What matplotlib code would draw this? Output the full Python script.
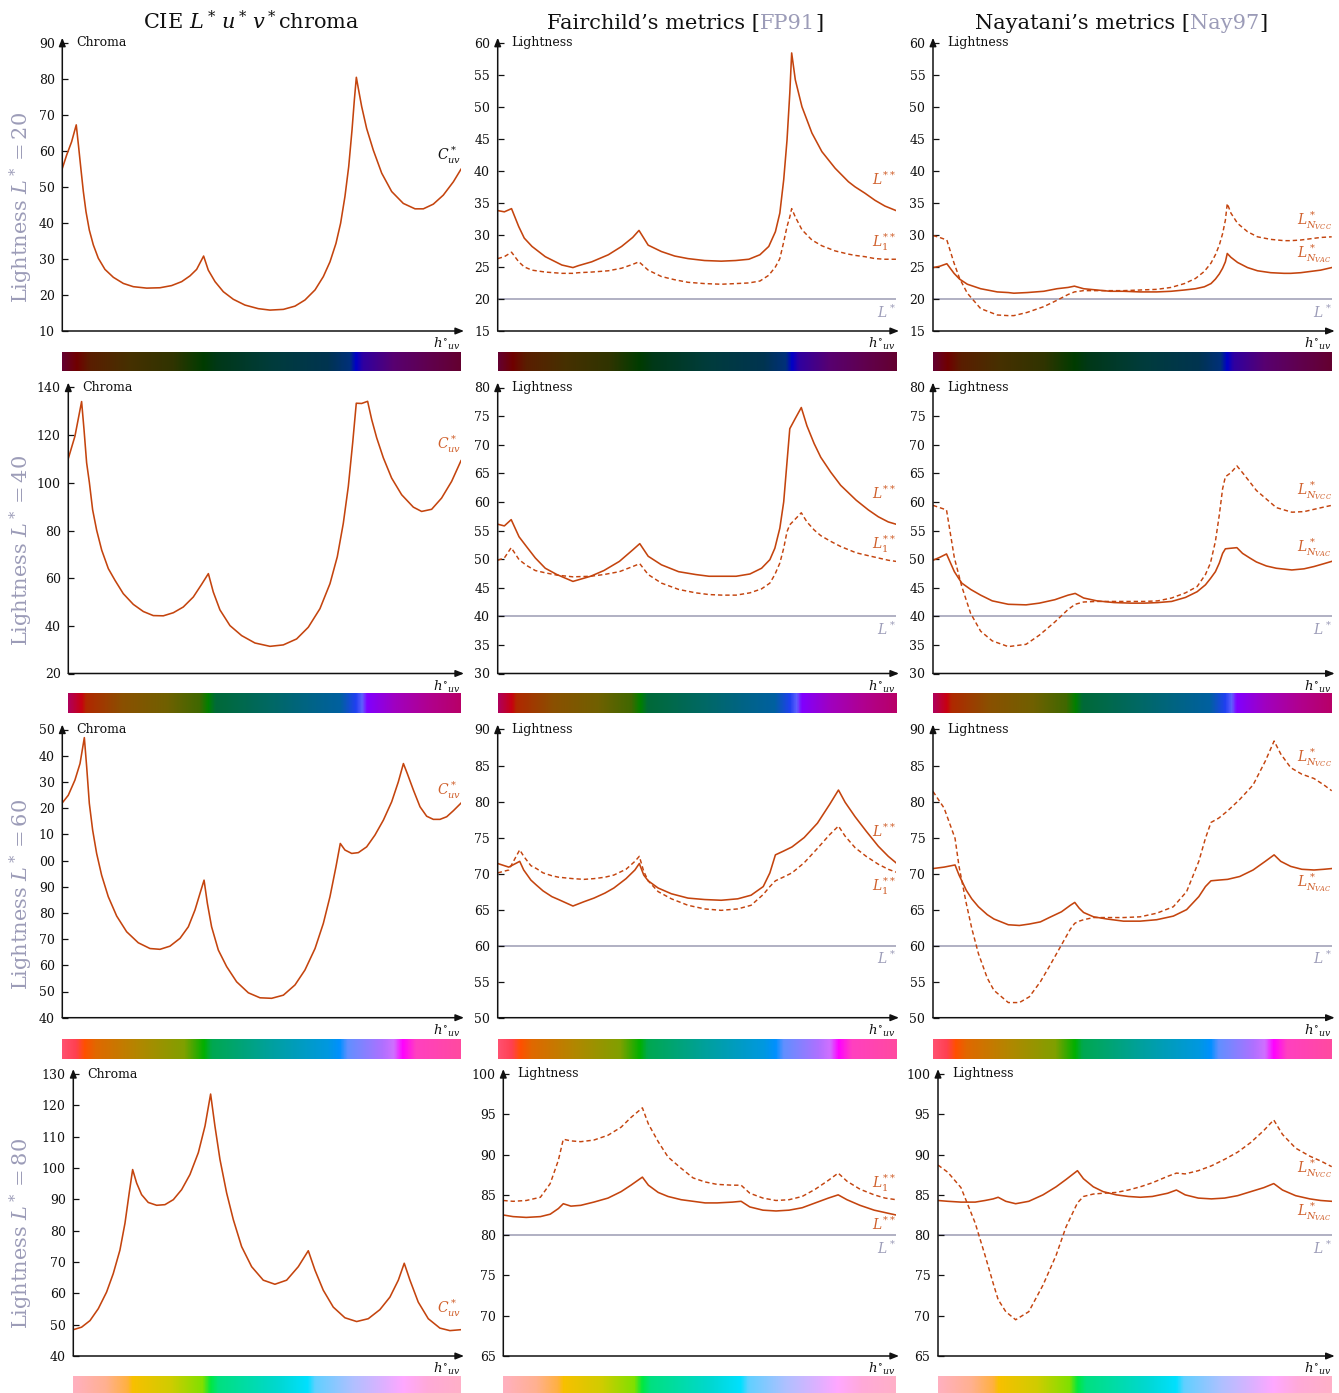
import matplotlib
matplotlib.use("Agg")
import matplotlib.pyplot as plt
import numpy as np
from matplotlib.colors import LinearSegmentedColormap

W, H = 1339, 1393

INK = "#111111"
RUST = "#c4440e"
RUST_TXT = "#d0602c"
LAV = "#9c9cb8"
REF = "#aaaabe"

plt.rcParams.update({
    "font.family": "DejaVu Serif",
    "mathtext.fontset": "dejavuserif",
    "font.size": 9,
    "text.color": INK,
})

# ---- chroma at the gamut boundary (own hue samples) ----------------------
C_HUE_20 = [0, 3.9, 8.4, 12.6, 14.7, 16.9, 19.0, 21.4, 24.4, 28.0, 32.5, 38.5, 46.1, 55.1, 64.1, 76.2,
            88.2, 98.7, 107.8, 115.3, 121.3, 127.6, 131.8, 137.9, 145.4, 154.4, 164.9, 177.0, 187.5,
            199.6, 210.1, 219.1, 228.2, 235.7, 241.7, 247.1, 251.3, 255.2, 258.6, 261.6, 263.7, 265.5,
            267.3, 270.3, 274.8, 280.8, 288.4, 297.4, 307.9, 318.5, 326.0, 335.0, 344.0, 353.1, 360]
CHROMA_20 = [55.1, 58.8, 62.5, 67.2, 61.2, 54.7, 48.7, 43.1, 38.0, 33.9, 30.2, 27.1, 24.9, 23.2, 22.3,
             21.9, 22.0, 22.6, 23.7, 25.3, 27.1, 30.8, 26.9, 23.7, 20.9, 18.8, 17.2, 16.2, 15.8, 16.0,
             16.9, 18.6, 21.4, 25.1, 29.2, 34.3, 39.9, 47.3, 55.6, 65.8, 74.1, 80.4, 77.3, 72.3, 66.2,
             60.2, 53.8, 48.7, 45.4, 43.9, 43.9, 45.2, 47.7, 51.4, 54.9]

C_HUE_40 = [0, 6.1, 12.2, 14.4, 16.8, 19.3, 22.3, 26.0, 30.6, 36.7, 42.8, 50.4, 59.6, 68.8, 77.9, 87.1,
            96.3, 105.4, 114.6, 122.2, 128.4, 132.9, 139.0, 148.2, 158.9, 171.1, 184.9, 197.1, 209.3,
            220.0, 230.7, 239.9, 246.6, 252.1, 256.7, 260.7, 264.0, 268.9, 274.4, 278.1, 282.7, 288.8,
            296.4, 305.6, 316.3, 323.9, 333.1, 342.2, 351.4, 360]
CHROMA_40 = [110.2, 119.6, 134.1, 122.4, 108.4, 100.2, 88.7, 80.1, 71.8, 64.0, 59.1, 53.5, 49.0, 46.0,
             44.3, 44.2, 45.5, 47.9, 52.1, 57.4, 61.9, 54.2, 46.7, 40.1, 35.9, 32.8, 31.4, 32.0, 34.5,
             39.4, 47.2, 57.7, 69.0, 83.0, 98.5, 116.8, 133.4, 133.3, 134.2, 126.6, 118.9, 110.5, 102.0,
             95.0, 89.8, 88.0, 88.9, 93.6, 100.6, 109.3]

C_HUE_60 = [0, 5.4, 11.4, 16.0, 19.9, 22.0, 24.4, 27.4, 31.0, 35.5, 41.5, 49.1, 58.1, 68.6, 79.2, 88.2,
            97.2, 106.3, 113.8, 119.8, 124.3, 128.0, 131.0, 134.8, 140.9, 148.4, 157.4, 168.0, 178.5,
            189.0, 199.6, 210.1, 219.1, 228.2, 235.7, 241.7, 247.1, 251.0, 255.2, 261.3, 267.3, 274.8,
            282.3, 289.9, 297.4, 303.4, 308.0, 311.5, 317.0, 323.0, 329.0, 335.0, 341.0, 347.1, 353.1,
            360]
CHROMA_60 = [122.0, 124.9, 130.7, 137.0, 146.9, 135.8, 121.8, 111.6, 102.7, 94.4, 86.2, 78.8, 72.8,
             68.6, 66.4, 66.1, 67.3, 70.3, 74.7, 81.1, 87.4, 92.5, 83.6, 74.7, 65.8, 59.5, 53.7, 49.5,
             47.6, 47.4, 48.6, 52.5, 58.2, 66.4, 76.0, 86.2, 97.6, 106.5, 104.0, 102.7, 103.0, 105.2,
             109.7, 115.4, 122.4, 130.0, 137.0, 133.2, 126.9, 120.5, 116.9, 115.7, 115.7, 116.7, 119.0,
             121.9]

C_HUE_80 = [0, 7.7, 15.5, 23.2, 30.9, 37.1, 43.3, 48.0, 51.9, 55.1, 58.8, 63.4, 69.6, 77.4, 85.1, 92.9,
            100.6, 108.3, 116.1, 122.3, 127.5, 131.5, 136.2, 142.4, 148.6, 156.3, 165.6, 176.4, 187.2,
            198.1, 208.9, 218.2, 224.4, 232.1, 241.4, 252.2, 263.1, 273.9, 284.7, 294.0, 301.8, 307.3,
            312.6, 320.3, 329.6, 340.4, 349.7, 360]
CHROMA_80 = [48.4, 49.2, 51.3, 55.1, 60.4, 66.3, 73.8, 82.4, 92.0, 99.5, 95.2, 91.5, 89.0, 88.1, 88.3,
             89.9, 93.1, 97.9, 104.9, 113.4, 123.6, 113.4, 102.7, 92.0, 83.5, 74.9, 68.5, 64.2, 62.9,
             64.2, 68.5, 73.6, 67.4, 61.0, 55.6, 52.2, 51.0, 51.9, 54.8, 58.8, 64.2, 69.6, 64.2, 57.2,
             51.9, 48.9, 48.1, 48.4]

# ---- lightness metrics, one hue grid per row -----------------------------
HUE_20 = [0, 6, 12.5, 19, 24, 31, 43, 58, 68, 73, 85, 100, 112, 122, 127.7, 136, 148, 160, 172, 187,
          202, 215, 227, 237, 245, 251, 255, 258.5, 261.5, 264, 265.7, 269, 275, 284, 293, 305, 317, 323,
          332, 341, 350, 360]
FAIR_L2_20 = [33.8, 33.6, 34.1, 31.3, 29.5, 28.2, 26.6, 25.3, 24.9, 25.2, 25.8, 26.9, 28.2, 29.6, 30.7,
              28.4, 27.4, 26.7, 26.3, 26.0, 25.9, 26.0, 26.2, 26.9, 28.2, 30.5, 33.4, 38.6, 44.8, 52.1,
              58.4, 54.2, 50.0, 45.9, 43.0, 40.4, 38.3, 37.5, 36.5, 35.4, 34.5, 33.8]
FAIR_L1_20 = [26.3, 26.6, 27.3, 25.8, 25.0, 24.5, 24.2, 24.0, 24.0, 24.1, 24.2, 24.4, 24.8, 25.4, 25.8,
              24.5, 23.5, 23.0, 22.6, 22.4, 22.3, 22.4, 22.5, 22.8, 23.7, 25.0, 26.3, 28.9, 31.3, 32.8,
              34.1, 32.8, 30.8, 29.2, 28.3, 27.5, 27.0, 26.8, 26.6, 26.3, 26.2, 26.2]
VAC_20 = [24.9, 25.1, 25.5, 24.0, 23.1, 22.3, 21.6, 21.1, 21.0, 20.9, 21.0, 21.2, 21.6, 21.8, 22.0,
          21.6, 21.4, 21.2, 21.2, 21.1, 21.1, 21.2, 21.4, 21.6, 21.9, 22.4, 23.1, 23.9, 24.8, 25.8,
          27.1, 26.5, 25.7, 24.9, 24.4, 24.1, 24.0, 24.0, 24.1, 24.3, 24.5, 24.9]
VCC_20 = [29.9, 29.6, 29.2, 25.6, 23.2, 20.9, 18.5, 17.5, 17.4, 17.4, 17.9, 18.8, 19.8, 20.7, 21.1,
          21.3, 21.3, 21.3, 21.3, 21.4, 21.5, 21.8, 22.4, 23.2, 24.3, 25.6, 26.9, 28.4, 30.2, 32.3,
          34.9, 33.4, 31.8, 30.5, 29.7, 29.3, 29.1, 29.1, 29.2, 29.4, 29.6, 29.7]

HUE_40 = [0, 6, 12.2, 19.3, 26, 34, 43, 53.5, 68, 84, 96, 110, 122, 128.4, 136, 148, 163.5, 179, 191,
          203, 215.5, 228, 238.5, 246, 250.5, 255, 258.5, 261.5, 264, 269, 274.4, 279.5, 286, 292, 301,
          310, 324, 335, 344, 353, 360]
FAIR_L2_40 = [56.1, 55.8, 56.9, 53.9, 52.2, 50.2, 48.4, 47.3, 46.1, 47.0, 48.0, 49.6, 51.6, 52.7, 50.5,
              49.0, 47.8, 47.3, 47.0, 47.0, 47.0, 47.4, 48.4, 49.9, 51.9, 55.4, 60.0, 67.0, 72.8, 74.6,
              76.5, 73.3, 70.2, 67.8, 65.2, 62.9, 60.3, 58.6, 57.4, 56.5, 56.1]
FAIR_L1_40 = [49.8, 50.2, 52.0, 49.9, 48.9, 48.0, 47.6, 47.2, 46.9, 47.0, 47.3, 47.8, 48.7, 49.2, 47.3,
              45.8, 44.7, 44.1, 43.8, 43.7, 43.7, 44.1, 44.8, 45.8, 47.3, 49.3, 51.9, 54.8, 56.0, 57.0,
              58.1, 56.5, 55.1, 54.1, 53.1, 52.2, 51.1, 50.6, 50.2, 49.8, 49.6]
VAC_40 = [49.8, 50.3, 50.9, 47.8, 45.8, 44.7, 43.7, 42.7, 42.1, 42.0, 42.3, 42.9, 43.7, 44.0, 43.2,
          42.7, 42.4, 42.3, 42.3, 42.4, 42.6, 43.3, 44.3, 45.5, 46.6, 47.8, 49.3, 51.0, 51.8, 51.9,
          52.0, 51.0, 50.2, 49.5, 48.8, 48.4, 48.1, 48.3, 48.7, 49.2, 49.6]
VCC_40 = [59.4, 59.0, 58.6, 50.2, 45.2, 40.5, 37.4, 35.7, 34.7, 35.1, 36.7, 39.0, 41.2, 42.1, 42.5,
          42.6, 42.6, 42.6, 42.6, 42.7, 43.2, 44.1, 45.2, 47.3, 49.3, 53.1, 57.7, 62.3, 64.4, 65.1,
          66.3, 65.1, 63.5, 62.0, 60.5, 59.0, 58.2, 58.3, 58.7, 59.1, 59.4]

HUE_60 = [0, 10, 19.9, 23.5, 30, 35, 41, 49, 55, 68, 78, 87, 97, 105, 116, 124, 128, 132, 136, 145,
          157, 172, 187, 202, 217, 229, 240, 246, 251, 258, 266, 277, 289, 300, 308, 314, 323, 333, 344,
          353, 360]
FAIR_L2_60 = [71.4, 70.9, 71.7, 70.5, 69.1, 68.4, 67.6, 66.8, 66.4, 65.5, 66.1, 66.6, 67.3, 68.0, 69.3,
              70.5, 71.4, 69.8, 69.0, 68.0, 67.2, 66.6, 66.4, 66.3, 66.5, 67.0, 68.2, 70.1, 72.6, 73.1,
              73.7, 75.0, 77.0, 79.6, 81.6, 79.9, 77.9, 75.9, 73.8, 72.4, 71.5]
FAIR_L1_60 = [70.1, 70.5, 73.3, 72.4, 71.1, 70.7, 70.1, 69.7, 69.5, 69.3, 69.2, 69.3, 69.5, 69.8, 70.6,
              71.7, 72.4, 70.3, 69.0, 67.5, 66.5, 65.6, 65.1, 64.9, 65.1, 65.6, 67.1, 68.2, 69.0, 69.5,
              70.1, 71.5, 73.5, 75.4, 76.6, 75.2, 73.6, 72.4, 71.3, 70.6, 70.2]
VAC_60 = [70.7, 70.9, 71.2, 69.8, 67.7, 66.5, 65.4, 64.3, 63.7, 62.9, 62.8, 63.0, 63.3, 63.9, 64.7,
          65.6, 66.0, 65.2, 64.6, 64.0, 63.7, 63.4, 63.4, 63.6, 64.1, 65.0, 66.8, 68.2, 69.0, 69.1,
          69.2, 69.6, 70.5, 71.7, 72.6, 71.7, 71.0, 70.6, 70.5, 70.6, 70.7]
VCC_60 = [81.4, 79.1, 74.9, 71.0, 65.9, 62.4, 58.9, 55.5, 53.8, 52.1, 52.1, 52.9, 55.0, 57.1, 60.1,
          62.3, 63.1, 63.4, 63.6, 63.9, 63.9, 63.9, 64.0, 64.5, 65.4, 67.5, 71.7, 74.9, 77.1, 77.7,
          78.7, 80.3, 82.3, 85.6, 88.4, 86.6, 84.7, 83.8, 83.2, 82.3, 81.5]

HUE_80 = [0, 9, 21, 34, 43, 50.5, 55, 62, 71, 83, 96, 108, 117, 127.5, 133, 142, 151, 163, 174, 185,
          196, 210, 218, 226, 238, 250, 262, 274, 286, 298, 307, 315, 327, 340, 350, 360]
FAIR_L2_80 = [82.5, 82.3, 82.2, 82.3, 82.6, 83.3, 83.9, 83.6, 83.7, 84.1, 84.6, 85.4, 86.2, 87.2, 86.2,
              85.3, 84.8, 84.4, 84.2, 84.0, 84.0, 84.1, 84.2, 83.5, 83.1, 83.0, 83.1, 83.4, 84.0, 84.6,
              85.0, 84.4, 83.7, 83.1, 82.8, 82.5]
FAIR_L1_80 = [84.3, 84.2, 84.3, 84.7, 86.4, 89.3, 91.9, 91.7, 91.6, 91.8, 92.4, 93.4, 94.6, 95.8, 93.8,
              91.6, 89.7, 88.3, 87.1, 86.6, 86.3, 86.2, 86.2, 85.2, 84.6, 84.3, 84.4, 84.8, 85.7, 86.8,
              87.7, 86.7, 85.7, 85.0, 84.6, 84.4]
VAC_80 = [84.3, 84.2, 84.1, 84.1, 84.3, 84.5, 84.7, 84.2, 83.9, 84.2, 85.0, 86.0, 86.9, 88.0, 87.0,
          86.0, 85.4, 85.0, 84.8, 84.7, 84.8, 85.2, 85.6, 85.0, 84.6, 84.5, 84.6, 84.9, 85.4, 85.9,
          86.4, 85.6, 84.9, 84.5, 84.3, 84.2]
VCC_80 = [88.7, 87.8, 85.9, 81.5, 77.5, 74.0, 72.0, 70.5, 69.5, 70.5, 73.8, 77.5, 81.0, 84.0, 84.8,
          85.1, 85.2, 85.3, 85.6, 86.0, 86.5, 87.3, 87.7, 87.6, 88.0, 88.6, 89.4, 90.3, 91.5, 93.0,
          94.3, 92.5, 90.8, 89.8, 89.2, 88.5]

# gamut colour strip under each row: (hue, colour) stops
BAR_20 = [(0, "#640030"), (12.5, "#700000"), (25, "#5a1e00"), (60, "#463000"), (100, "#303400"),
          (127.7, "#003c00"), (140, "#003818"), (190, "#003c3c"), (240, "#003450"), (260, "#00307a"),
          (265.7, "#0000c8"), (272, "#3000a0"), (300, "#580070"), (330, "#600050"), (360, "#640030")]
BAR_40 = [(0, "#b0005a"), (12, "#c80010"), (16, "#b02800"), (50, "#8a5000"), (90, "#706000"),
          (120, "#406800"), (128.4, "#008000"), (135, "#006a38"), (190, "#006868"), (250, "#0060a0"),
          (264, "#2040f0"), (270, "#6060ff"), (274.4, "#8000ff"), (300, "#a000c0"), (330, "#b00090"),
          (360, "#b80068")]
BAR_60 = [(0, "#ff5070"), (12, "#ff4050"), (19.9, "#ff5000"), (30, "#e06800"), (70, "#b08800"),
          (110, "#80a000"), (128, "#00b000"), (135, "#00a850"), (190, "#00a0a0"), (240, "#0098e0"),
          (251, "#0090ff"), (258, "#6090ff"), (290, "#b070ff"), (300, "#d070ff"), (308, "#ff00ff"),
          (320, "#ff40c0"), (360, "#ff4aa0")]
BAR_80 = [(0, "#ffb0c0"), (30, "#ffb090"), (50, "#ffb040"), (55, "#f8c000"), (90, "#d0cc00"),
          (120, "#80e000"), (127.5, "#00e840"), (135, "#00e080"), (190, "#00d8d0"), (218, "#00e0ff"),
          (225, "#60d0ff"), (260, "#b0c0ff"), (290, "#e0b0ff"), (307, "#ffa8ff"), (330, "#ffaad8"),
          (360, "#ffb0c8")]

LIGHTNESS = [20, 40, 60, 80]
C_HUES = [C_HUE_20, C_HUE_40, C_HUE_60, C_HUE_80]
CHROMA = [CHROMA_20, CHROMA_40, CHROMA_60, CHROMA_80]
HUES = [HUE_20, HUE_40, HUE_60, HUE_80]
FAIR_L2 = [FAIR_L2_20, FAIR_L2_40, FAIR_L2_60, FAIR_L2_80]
FAIR_L1 = [FAIR_L1_20, FAIR_L1_40, FAIR_L1_60, FAIR_L1_80]
NAY_VAC = [VAC_20, VAC_40, VAC_60, VAC_80]
NAY_VCC = [VCC_20, VCC_40, VCC_60, VCC_80]
BARS = [BAR_20, BAR_40, BAR_60, BAR_80]

CHROMA_TICKS = [(10, 90, 10), (20, 140, 20), (40, 150, 10), (40, 130, 10)]
LIGHT_TICKS = [(15, 60, 5), (30, 80, 5), (50, 90, 5), (65, 100, 5)]

C_LABEL_Y = [58.8, 116.1, 126.9, 55.1]
C_LABEL_COLOR = [INK, RUST_TXT, RUST_TXT, RUST_TXT]
FAIR_LABEL_Y = [(38.6, 28.9), (61.5, 52.5), (75.9, 68.2), (81.4, 86.4)]
NAY_LABEL_Y = [(32.3, 27.1), (62.0, 52.0), (86.1, 68.7), (88.3, 82.9)]

# layout in pixels
ROW_TOP = [42.7, 387.5, 729.5, 1074]
ROW_BOT = [331, 673.5, 1017.7, 1356]
COL_LEFT = [[62.3, 497.7, 933], [68.3, 497.7, 933], [62.3, 497.7, 933], [73.3, 503.3, 938]]
COL_RIGHT = [461, 896, 1331.7]
BAR_TOP = [352, 693, 1039, 1376]
BAR_BOT = [371.5, 713, 1059, 1393]


def px_axes(fig, left, top, right, bottom):
    return fig.add_axes([left / W, 1 - bottom / H, (right - left) / W, (bottom - top) / H])


def frame(ax, box, ticks, name, ticklabels=None):
    left, top, right, bottom = box
    lo, hi, step = ticks
    ax.set_xlim(0, 360)
    ax.set_ylim(lo, hi)
    ax.set_xticks([])
    ax.set_yticks(np.arange(lo, hi + 0.01, step))
    if ticklabels is not None:
        ax.set_yticklabels(ticklabels)
    for s in ax.spines.values():
        s.set_visible(False)
    ax.tick_params(axis="y", direction="in", length=4.5, width=0.9, pad=5.5, labelsize=9, colors=INK)
    ax.patch.set_alpha(0)
    ty = 1 + 5 / (bottom - top)
    tx = 1 + 3 / (right - left)
    style = "-|>,head_length=0.55,head_width=0.22"
    ax.annotate("", xy=(0, ty), xytext=(0, 0), xycoords="axes fraction", textcoords="axes fraction",
                arrowprops=dict(arrowstyle=style, lw=1.1, color=INK, shrinkA=0, shrinkB=0))
    ax.annotate("", xy=(tx, 0), xytext=(0, 0), xycoords="axes fraction", textcoords="axes fraction",
                arrowprops=dict(arrowstyle=style, lw=1.1, color=INK, shrinkA=0, shrinkB=0))
    ax.annotate(name, xy=(0, 1), xycoords="axes fraction", xytext=(14, 0), textcoords="offset pixels",
                ha="left", va="center", fontsize=9)
    ax.annotate(r"$h^{\circ}{}_{uv}$", xy=(1, 0), xycoords="axes fraction", xytext=(0, -5),
                textcoords="offset pixels", ha="right", va="top", fontsize=9.5)


def curve_label(ax, y, s, color):
    ax.text(360, y, s, ha="right", va="center", fontsize=10, color=color)


def ref_line(ax, L):
    ax.axhline(L, color=REF, lw=1.3, zorder=1)
    ax.annotate(r"$L^*$", xy=(360, L), xytext=(0, -13), textcoords="offset pixels",
                ha="right", va="center", fontsize=10, color=LAV)


def colour_strip(fig, box, stops, name):
    left, top, right, bottom = box
    ax = px_axes(fig, left, top, right, bottom)
    cmap = LinearSegmentedColormap.from_list(name, [(h / 360, c) for h, c in stops])
    ax.imshow(np.linspace(0, 1, 1024)[None, :], cmap=cmap, aspect="auto", extent=(0, 360, 0, 1))
    ax.set_axis_off()


def title_parts(fig, cx, y, parts, size):
    r = fig.canvas.get_renderer()
    items = [fig.text(0, 1 - y / H, s, color=c, fontsize=size, va="baseline") for s, c in parts]
    widths = [t.get_window_extent(r).width for t in items]
    x = cx - sum(widths) / 2
    for t, w in zip(items, widths):
        t.set_x(x / W)
        x += w


fig = plt.figure(figsize=(W / 100, H / 100), dpi=100)
fig.patch.set_facecolor("white")

for i, L in enumerate(LIGHTNESS):
    hue = HUES[i]
    top, bot = ROW_TOP[i], ROW_BOT[i]
    lefts = COL_LEFT[i]

    # chroma column
    box = (lefts[0], top, COL_RIGHT[0], bot)
    ax = px_axes(fig, *box)
    labels = None
    if i == 2:
        lo, hi, st = CHROMA_TICKS[i]
        labels = [f"{int(v) % 100:02d}" for v in np.arange(lo, hi + 0.01, st)]
    frame(ax, box, CHROMA_TICKS[i], "Chroma", labels)
    ax.plot(C_HUES[i], CHROMA[i], color=RUST, lw=1.15)
    curve_label(ax, C_LABEL_Y[i], r"$C^*_{uv}$", C_LABEL_COLOR[i])

    # Fairchild column
    box = (lefts[1], top, COL_RIGHT[1], bot)
    ax = px_axes(fig, *box)
    frame(ax, box, LIGHT_TICKS[i], "Lightness")
    ref_line(ax, L)
    ax.plot(hue, FAIR_L2[i], color=RUST, lw=1.15)
    ax.plot(hue, FAIR_L1[i], color=RUST, lw=1.05, linestyle=(0, (3.0, 2.0)))
    curve_label(ax, FAIR_LABEL_Y[i][0], r"$L^{**}$", RUST_TXT)
    curve_label(ax, FAIR_LABEL_Y[i][1], r"$L^{**}_1$", RUST_TXT)

    # Nayatani column
    box = (lefts[2], top, COL_RIGHT[2], bot)
    ax = px_axes(fig, *box)
    frame(ax, box, LIGHT_TICKS[i], "Lightness")
    ref_line(ax, L)
    ax.plot(hue, NAY_VAC[i], color=RUST, lw=1.15)
    ax.plot(hue, NAY_VCC[i], color=RUST, lw=1.05, linestyle=(0, (3.0, 2.0)))
    curve_label(ax, NAY_LABEL_Y[i][0], r"$L^*_{N_{VCC}}$", RUST_TXT)
    curve_label(ax, NAY_LABEL_Y[i][1], r"$L^*_{N_{VAC}}$", RUST_TXT)

    for j in range(3):
        colour_strip(fig, (lefts[j], BAR_TOP[i], COL_RIGHT[j], BAR_BOT[i]), BARS[i], f"strip{L}_{j}")

    yc = (top + BAR_BOT[i]) / 2
    fig.text(21 / W, 1 - yc / H, rf"Lightness $L^* = {L}$", rotation=90, ha="center", va="center",
             fontsize=15, color=LAV)

fig.text(251 / W, 1 - 29 / H, r"CIE $L^*\,u^*\,v^*$chroma", ha="center", va="baseline", fontsize=15)
title_parts(fig, 685, 29, [("Fairchild’s metrics [", INK), ("FP91", LAV), ("]", INK)], 15)
title_parts(fig, 1121, 29, [("Nayatani’s metrics [", INK), ("Nay97", LAV), ("]", INK)], 15)

fig.savefig("out.png", dpi=100, facecolor="white")
